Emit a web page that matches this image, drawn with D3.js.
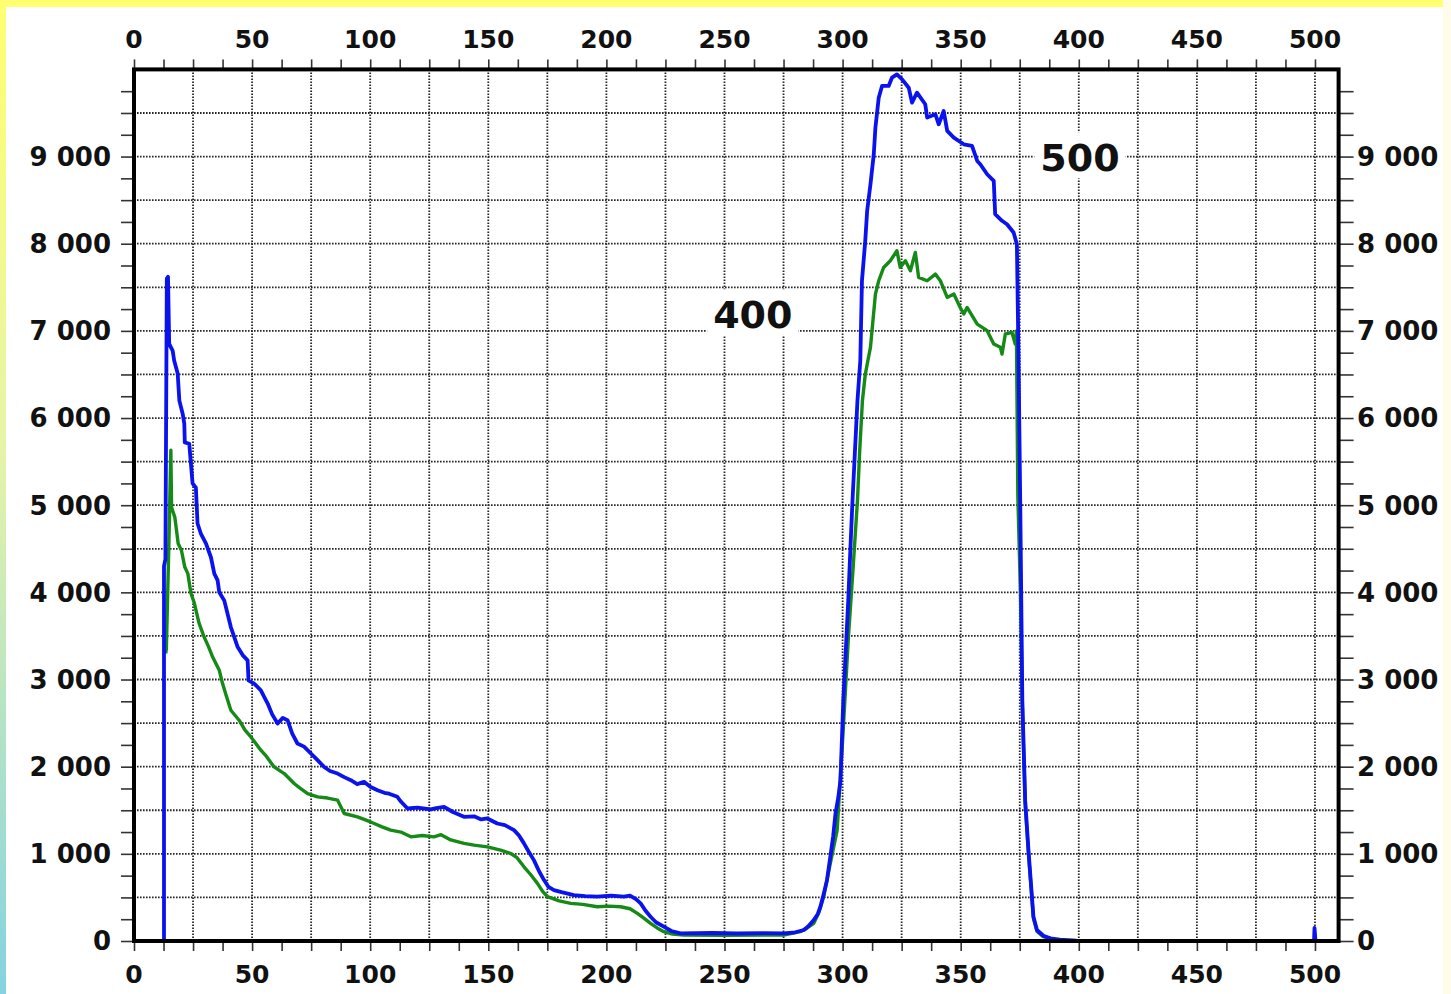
<!DOCTYPE html>
<html>
<head>
<meta charset="utf-8">
<script src="https://cdn.jsdelivr.net/npm/d3@7"></script>
<style>
  html, body { margin: 0; padding: 0; background: #fff; }
  svg { display: block; }
  .tick-label { font-family: "DejaVu Sans", sans-serif; font-weight: bold; fill: #111; }
  .peak-note { font-family: "DejaVu Sans", sans-serif; font-weight: bold; fill: #111; }
</style>
</head>
<body>
<svg id="chart"></svg>
<script>
// tick labels along x (top + bottom) and y (left + right)
var xLabels = [0, 50, 100, 150, 200, 250, 300, 350, 400, 450, 500];
var yLabels = [0, 1000, 2000, 3000, 4000, 5000, 6000, 7000, 8000, 9000];
var yLabelText = ["0", "1 000", "2 000", "3 000", "4 000", "5 000", "6 000", "7 000", "8 000", "9 000"];

// blue series, [x, value]
var blueCurve = [
  [12.7, 0], [12.7, 4300], [13.3, 4380], [13.9, 7600], [14.4, 7620], [14.9, 6850], [16.4, 6770],
  [17.0, 6660], [18.5, 6510], [19.2, 6200], [20.6, 6050], [21.3, 5935], [21.5, 5720], [23.4, 5705],
  [24.1, 5475], [24.8, 5250], [26.2, 5200], [26.9, 4790], [28.3, 4675], [30.5, 4560], [32.6, 4400],
  [34.0, 4215], [35.4, 4137], [36.1, 4000], [38.2, 3908], [41.0, 3602], [43.9, 3373], [46.0, 3280],
  [48.1, 3220], [48.5, 2991], [51.0, 2950], [53.7, 2876], [56.6, 2724], [58.5, 2600], [60.8, 2495],
  [63.0, 2560], [65.0, 2533], [67.0, 2380], [69.2, 2266], [72.0, 2230], [74.9, 2151], [77.5, 2080],
  [80.5, 1997], [83.0, 1950], [86.2, 1921], [89.0, 1880], [91.8, 1845], [94.5, 1800], [97.4, 1826],
  [100.0, 1770], [103.1, 1730], [106.0, 1700], [108.0, 1690], [111.5, 1654], [113.0, 1600],
  [115.8, 1520], [120.0, 1530], [125.6, 1510], [128.0, 1525], [131.3, 1539], [135.0, 1480],
  [139.7, 1425], [144.0, 1430], [147.0, 1395], [149.6, 1406], [153.8, 1348], [157.0, 1330],
  [160.9, 1272], [163.0, 1210], [165.1, 1120], [167.0, 1030], [169.3, 928], [171.5, 800],
  [173.6, 699], [175.5, 620], [177.8, 584], [181.0, 560], [186.2, 527], [191.0, 515], [196.1, 508],
  [202.0, 520], [207.4, 508], [210.0, 520], [212.5, 480], [214.5, 432], [216.5, 350], [218.7, 278],
  [221.0, 215], [224.3, 164], [227.5, 115], [231.4, 88], [245.0, 92], [255.0, 86], [266.6, 90],
  [275.1, 88], [280.0, 100], [283.6, 126], [285.5, 170], [287.8, 241], [289.5, 310], [290.6, 393],
  [292.0, 540], [293.4, 699], [294.8, 966], [296.0, 1200], [297.0, 1463], [298.2, 1650],
  [299.1, 1845], [300.3, 2762], [301.3, 3300], [302.4, 3908], [303.3, 4500], [304.2, 5054],
  [305.2, 5600], [306.3, 6200], [307.5, 6658], [308.2, 7575], [309.6, 8034], [310.4, 8377],
  [311.8, 8683], [313.2, 9026], [313.9, 9332], [315.3, 9675], [316.7, 9810], [319.5, 9810],
  [320.9, 9905], [323.0, 9943], [325.2, 9886], [328.0, 9790], [329.4, 9619], [331.5, 9733],
  [335.0, 9600], [335.8, 9447], [339.3, 9485], [340.7, 9370], [342.8, 9523], [344.3, 9294],
  [347.1, 9217], [351.3, 9141], [354.8, 9122], [357.0, 8950], [358.3, 8912], [361.2, 8797],
  [364.0, 8721], [364.6, 8339], [367.5, 8263], [369.6, 8224], [372.4, 8129], [373.8, 7995],
  [374.5, 6658], [375.2, 5054], [376.1, 2762], [377.3, 1616], [378.7, 1043], [380.8, 278],
  [382.3, 126], [385.0, 60], [388.0, 30], [392.0, 15], [399.0, 5], [499.6, 0], [499.8, 150], [500.2, 0]
];

// green series, [x, value]
var greenCurve = [
  [13.4, 3300], [13.7, 3350], [14.8, 4600], [15.6, 5630], [15.9, 4975], [17.3, 4860], [18.7, 4560],
  [20.1, 4480], [21.5, 4290], [22.8, 4215], [24.1, 3990], [25.5, 3880], [27.5, 3650], [29.7, 3487],
  [31.5, 3380], [33.3, 3258], [36.1, 3106], [37.5, 2953], [39.0, 2820], [41.0, 2647], [44.5, 2533],
  [47.0, 2420], [49.5, 2341], [53.7, 2189], [56.0, 2120], [59.3, 1997], [63.6, 1921], [67.8, 1807],
  [70.0, 1760], [73.5, 1692], [77.7, 1654], [82.0, 1640], [86.2, 1616], [89.0, 1463], [94.6, 1425],
  [98.0, 1390], [101.7, 1348], [105.0, 1310], [108.7, 1272], [113.0, 1250], [117.2, 1195],
  [122.0, 1210], [127.0, 1195], [130.0, 1220], [134.1, 1160], [139.7, 1120], [144.0, 1100],
  [149.6, 1080], [155.2, 1043], [159.5, 1004], [162.0, 960], [165.1, 851], [168.0, 760],
  [170.8, 661], [173.0, 570], [175.0, 508], [180.0, 460], [184.9, 432], [190.0, 420], [196.1, 393],
  [201.0, 400], [206.0, 393], [210.0, 370], [213.1, 317], [216.0, 260], [218.7, 203], [221.5, 150],
  [224.3, 107], [228.0, 80], [232.8, 69], [250.0, 66], [275.1, 69], [282.1, 107], [285.0, 150],
  [287.8, 203], [290.0, 330], [292.0, 508], [294.8, 890], [297.7, 1272], [300.0, 2300],
  [302.5, 3500], [304.5, 4300], [306.3, 5054], [307.2, 5600], [308.4, 6200], [309.6, 6500],
  [311.0, 6700], [311.8, 6811], [313.9, 7422], [315.3, 7575], [317.4, 7728], [320.2, 7804],
  [323.0, 7919], [324.4, 7728], [326.6, 7804], [328.7, 7690], [330.8, 7900], [332.2, 7613],
  [335.8, 7575], [339.3, 7651], [341.4, 7575], [344.3, 7384], [347.1, 7422], [349.8, 7269],
  [351.3, 7193], [352.7, 7269], [357.0, 7078], [361.2, 7002], [364.0, 6850], [366.8, 6811],
  [367.5, 6735], [368.9, 6964], [371.7, 6983], [373.1, 6850], [373.6, 7000], [374.2, 5100],
  [375.3, 4000], [376.1, 2700], [377.3, 1580], [378.7, 1000], [380.8, 260], [382.3, 110],
  [385.0, 50], [390.0, 15]
];

// peak annotations and where they sit (data coords)
var peakNotes = ["400", "500"];
var peakNoteAt = [[262, 7030], [400.5, 8830]];

var width = 1451, height = 994;

var svg = d3.select("#chart")
  .attr("width", width)
  .attr("height", height);

// coloured page edges
var defs = svg.append("defs");
var edge = defs.append("linearGradient")
  .attr("id", "edgeFade")
  .attr("x1", 0).attr("y1", 0).attr("x2", 0).attr("y2", 1);
edge.append("stop").attr("offset", "0%").attr("stop-color", "#ffff70");
edge.append("stop").attr("offset", "45%").attr("stop-color", "#e6f4a8");
edge.append("stop").attr("offset", "100%").attr("stop-color", "#84d2e2");

svg.append("rect").attr("width", width).attr("height", height).style("fill", "#fff");
svg.append("rect").attr("width", width).attr("height", 7).style("fill", "#ffff72");
svg.append("rect").attr("width", 6).attr("height", height).style("fill", "url(#edgeFade)");
svg.append("rect").attr("x", width - 8).attr("width", 8).attr("height", height).style("fill", "#fffdea");

// scales
var x = d3.scaleLinear().domain([0, 510]).range([134, 1338.6]);
var y = d3.scaleLinear().domain([0, 10000]).range([941, 69.4]);

// plot box edges (not named top/left: those clash with window globals)
var plotL = x(0), plotR = x(510), plotT = y(10000), plotB = y(0);

// dotted grid: every 25 on x, every 500 on y
var grid = svg.append("g").attr("class", "grid")
  .style("stroke", "#262626")
  .style("stroke-width", 1.8)
  .style("stroke-dasharray", "1.6,1.4");

grid.selectAll("line.v")
  .data(d3.range(25, 510, 25))
  .enter().append("line")
  .attr("class", "v")
  .attr("x1", function(d) { return x(d); })
  .attr("x2", function(d) { return x(d); })
  .attr("y1", plotT)
  .attr("y2", plotB);

grid.selectAll("line.h")
  .data(d3.range(500, 10000, 500))
  .enter().append("line")
  .attr("class", "h")
  .attr("x1", plotL)
  .attr("x2", plotR)
  .attr("y1", function(d) { return y(d); })
  .attr("y2", function(d) { return y(d); });

// white boxes behind the peak notes, then the notes
var notes = svg.append("g");
notes.selectAll("text")
  .data(peakNotes)
  .enter().append("text")
  .attr("class", "peak-note")
  .attr("x", function(d, i) { return x(peakNoteAt[i][0]); })
  .attr("y", function(d, i) { return y(peakNoteAt[i][1]); })
  .attr("text-anchor", "middle")
  .style("font-size", "38px")
  .text(function(d) { return d; });

notes.selectAll("text").each(function() {
  var b = this.getBBox();
  notes.insert("rect", "text")
    .attr("x", b.x - 6)
    .attr("y", b.y - 4)
    .attr("width", b.width + 12)
    .attr("height", b.height + 2)
    .style("fill", "#fff");
});

// the two curves
var line = d3.line()
  .x(function(d) { return x(d[0]); })
  .y(function(d) { return y(d[1]); });

svg.append("path")
  .datum(greenCurve)
  .attr("d", line)
  .style("fill", "none")
  .style("stroke", "#168a16")
  .style("stroke-width", 3.4)
  .style("stroke-linejoin", "round");

svg.append("path")
  .datum(blueCurve)
  .attr("d", line)
  .style("fill", "none")
  .style("stroke", "#0a12ee")
  .style("stroke-width", 3.8)
  .style("stroke-linejoin", "round");

// axes with outward ticks, every 12.5 on x and 250 on y
var xTickVals = d3.range(0, 500.1, 12.5);
var yTickVals = d3.range(0, 9751, 250);

svg.append("g")
  .attr("transform", "translate(0," + plotT + ")")
  .call(d3.axisTop(x).tickValues(xTickVals).tickSize(10).tickFormat(""));

svg.append("g")
  .attr("transform", "translate(0," + plotB + ")")
  .call(d3.axisBottom(x).tickValues(xTickVals).tickSize(10).tickFormat(""));

svg.append("g")
  .attr("transform", "translate(" + plotL + ",0)")
  .call(d3.axisLeft(y).tickValues(yTickVals).tickSize(13).tickFormat(""));

svg.append("g")
  .attr("transform", "translate(" + plotR + ",0)")
  .call(d3.axisRight(y).tickValues(yTickVals).tickSize(15).tickFormat(""));

svg.selectAll(".domain").remove();
svg.selectAll(".tick line").style("stroke", "#333").style("stroke-width", 1.6);

// thick plot frame
svg.append("rect")
  .attr("x", plotL)
  .attr("y", plotT)
  .attr("width", plotR - plotL)
  .attr("height", plotB - plotT)
  .style("fill", "none")
  .style("stroke", "#000")
  .style("stroke-width", 4);

// tick labels
svg.selectAll("text.xtop")
  .data(xLabels)
  .enter().append("text")
  .attr("class", "tick-label xtop")
  .attr("x", function(d) { return x(d); })
  .attr("y", 48)
  .attr("text-anchor", "middle")
  .style("font-size", "25px")
  .text(function(d) { return d; });

svg.selectAll("text.xbot")
  .data(xLabels)
  .enter().append("text")
  .attr("class", "tick-label xbot")
  .attr("x", function(d) { return x(d); })
  .attr("y", 983)
  .attr("text-anchor", "middle")
  .style("font-size", "25px")
  .text(function(d) { return d; });

svg.selectAll("text.yleft")
  .data(yLabels)
  .enter().append("text")
  .attr("class", "tick-label yleft")
  .attr("x", 111)
  .attr("y", function(d) { return y(d); })
  .attr("dy", "0.36em")
  .attr("text-anchor", "end")
  .style("font-size", "26px")
  .text(function(d, i) { return yLabelText[i]; });

svg.selectAll("text.yright")
  .data(yLabels)
  .enter().append("text")
  .attr("class", "tick-label yright")
  .attr("x", 1357)
  .attr("y", function(d) { return y(d); })
  .attr("dy", "0.36em")
  .attr("text-anchor", "start")
  .style("font-size", "26px")
  .text(function(d, i) { return yLabelText[i]; });
</script>
</body>
</html>
